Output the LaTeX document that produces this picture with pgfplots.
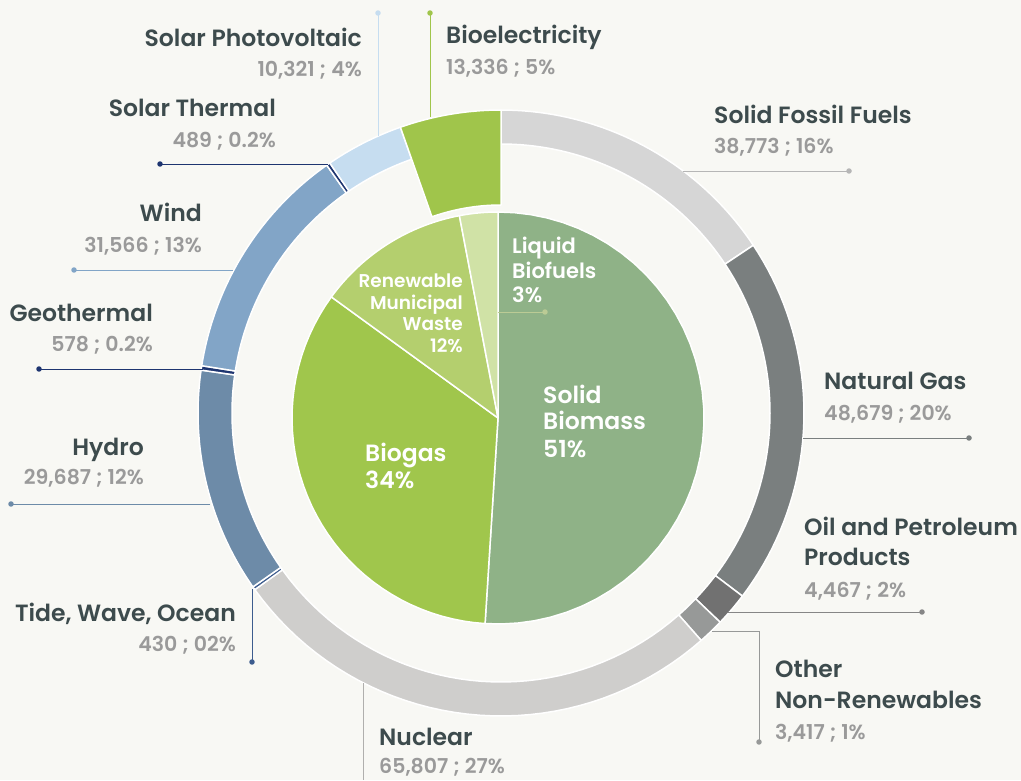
\documentclass[border=0pt]{standalone}
\usepackage{pgfplots}
\usepackage{pgfplotstable}
\pgfplotsset{compat=1.18}
\usepackage{fontspec}
\setmainfont{Poppins}[BoldFont={Poppins SemiBold}]

\definecolor{bg}{HTML}{F8F8F4}
\definecolor{cSFF}{HTML}{D6D6D6}
\definecolor{cNG}{HTML}{7A7F7F}
\definecolor{cOil}{HTML}{717171}
\definecolor{cONR}{HTML}{979998}
\definecolor{cNuc}{HTML}{CFCECC}
\definecolor{cTide}{HTML}{3D5C8E}
\definecolor{cHyd}{HTML}{6D8BA8}
\definecolor{cGeo}{HTML}{1E3570}
\definecolor{cWind}{HTML}{82A5C7}
\definecolor{cST}{HTML}{1E3570}
\definecolor{cPV}{HTML}{C6DDF0}
\definecolor{cBio}{HTML}{A0C54B}
\definecolor{cSB}{HTML}{8FB287}
\definecolor{cBG}{HTML}{A0C64C}
\definecolor{cRMW}{HTML}{B4CF6E}
\definecolor{cLB}{HTML}{D0E2A6}
\definecolor{cName}{HTML}{3D4B4D}
\definecolor{cVal}{HTML}{9A9A9A}

\pgfplotstableread{
label value color rin
SolidFossil 38773 cSFF 269
NaturalGas 48679 cNG 269
Oil 4467 cOil 269
OtherNR 3417 cONR 269
Nuclear 65807 cNuc 269
Tide 430 cTide 269
Hydro 29687 cHyd 269
Geothermal 578 cGeo 269
Wind 31566 cWind 269
SolarThermal 489 cST 269
SolarPV 10321 cPV 269
Bioelectricity 13336 cBio 208
}\ringtable

\pgfplotstableread{
label value color
SolidBiomass 51 cSB
Biogas 34 cBG
RMW 12 cRMW
Liquid 3 cLB
}\pietable

% #1 colour, #2 cx, #3 cy, #4 inner r, #5 outer R, #6 start angle, #7 end angle (clockwise from top)
\newcommand{\sector}[7]{%
  \addplot[fill=#1, draw=white, line width=1.5bp, line join=round,
    samples at={0,...,81}, variable=\t]
  ({#2 + ifthenelse(\t<40.5,#5,#4)*sin(ifthenelse(\t<40.5, #6+(#7-#6)*\t/40, #7-(#7-#6)*(\t-41)/40))},
   {#3 - ifthenelse(\t<40.5,#5,#4)*cos(ifthenelse(\t<40.5, #6+(#7-#6)*\t/40, #7-(#7-#6)*(\t-41)/40))}) -- cycle;
}

\newcommand{\namefont}{\fontsize{23.5bp}{28bp}\selectfont\bfseries\color{cName}}
\newcommand{\valfont}{\fontsize{20.5bp}{24bp}\selectfont\bfseries\color{cVal}}

\begin{document}
\begin{tikzpicture}[every node/.append style={inner sep=0pt}]
\begin{axis}[
  width=1021bp, height=780bp, scale only axis,
  xmin=0, xmax=1021, ymin=0, ymax=780, y dir=reverse,
  enlargelimits=false,
  axis line style={draw=none}, ticks=none,
  clip=false,
  axis background/.style={fill=bg},
]
% outer ring
\def\cum{0}
\pgfplotsforeachungrouped \i in {0,...,11}{%
  \pgfplotstablegetelem{\i}{value}\of\ringtable \let\v\pgfplotsretval
  \pgfplotstablegetelem{\i}{color}\of\ringtable \let\c\pgfplotsretval
  \pgfplotstablegetelem{\i}{rin}\of\ringtable \let\ri\pgfplotsretval
  \edef\cs{\cum}%
  \edef\cum{\the\numexpr\cum+\v\relax}%
  \edef\temp{\noexpand\sector{\c}{501}{413}{\ri}{303}{360*\cs/247550}{360*\cum/247550}}%
  \temp
}
% inner pie
\def\cum{0}
\pgfplotsforeachungrouped \i in {0,...,3}{%
  \pgfplotstablegetelem{\i}{value}\of\pietable \let\v\pgfplotsretval
  \pgfplotstablegetelem{\i}{color}\of\pietable \let\c\pgfplotsretval
  \edef\cs{\cum}%
  \edef\cum{\the\numexpr\cum+\v\relax}%
  \edef\temp{\noexpand\sector{\c}{498}{418}{0}{206}{360*\cs/100}{360*\cum/100}}%
  \temp
}

% leader lines
\pgfplotsset{leader/.style={line width=1bp, mark=*, mark size=2.2bp, mark indices={2}}}
\addplot[leader, color=cPV] coordinates {(378,136) (378,13)};
\addplot[leader, color=cBio] coordinates {(430,117) (430,13)};
\addplot[leader, color=cSFF!85!black] coordinates {(683,171) (849,171)};
\addplot[leader, color=cNG] coordinates {(803,438) (969,438)};
\addplot[leader, color=cOil!85!white] coordinates {(728,612) (922,612)};
\addplot[line width=1bp, mark=*, mark size=2.2bp, mark indices={3}, color=cONR] coordinates {(712,631) (759,631) (759,742)};
\addplot[line width=1bp, color=cNuc!85!black] coordinates {(363,683) (363,780)};
\addplot[leader, color=cTide] coordinates {(252,589) (252,662)};
\addplot[leader, color=cHyd] coordinates {(210,504) (11,504)};
\addplot[leader, color=cGeo] coordinates {(203,369) (39,369)};
\addplot[leader, color=cWind] coordinates {(233,270) (74,270)};
\addplot[leader, color=cST] coordinates {(328,164) (160,164)};
\addplot[leader, color=cLB!90!black] coordinates {(498,312) (545,312)};

% outer labels
\node[anchor=base east, font=\namefont] at (axis cs:362,47) {Solar Photovoltaic};
\node[anchor=base east, font=\valfont] at (axis cs:362,77) {10,321 ; 4\%};
\node[anchor=base west, font=\namefont] at (axis cs:446,44) {Bioelectricity};
\node[anchor=base west, font=\valfont] at (axis cs:446,75) {13,336 ; 5\%};
\node[anchor=base east, font=\namefont] at (axis cs:276,116) {Solar Thermal};
\node[anchor=base east, font=\valfont] at (axis cs:276,147) {489 ; 0.2\%};
\node[anchor=base west, font=\namefont] at (axis cs:714,123) {Solid Fossil Fuels};
\node[anchor=base west, font=\valfont] at (axis cs:714,153) {38,773 ; 16\%};
\node[anchor=base east, font=\namefont] at (axis cs:202,221) {Wind};
\node[anchor=base east, font=\valfont] at (axis cs:202,252) {31,566 ; 13\%};
\node[anchor=base east, font=\namefont] at (axis cs:153,321) {Geothermal};
\node[anchor=base east, font=\valfont] at (axis cs:153,351) {578 ; 0.2\%};
\node[anchor=base west, font=\namefont] at (axis cs:824,389) {Natural Gas};
\node[anchor=base west, font=\valfont] at (axis cs:824,420) {48,679 ; 20\%};
\node[anchor=base east, font=\namefont] at (axis cs:144,455) {Hydro};
\node[anchor=base east, font=\valfont] at (axis cs:144,484) {29,687 ; 12\%};
\node[anchor=base west, font=\namefont] at (axis cs:804,535) {Oil and Petroleum};
\node[anchor=base west, font=\namefont] at (axis cs:804,565) {Products};
\node[anchor=base west, font=\valfont] at (axis cs:804,597) {4,467 ; 2\%};
\node[anchor=base east, font=\namefont] at (axis cs:236,621) {Tide, Wave, Ocean};
\node[anchor=base east, font=\valfont] at (axis cs:236,651) {430 ; 02\%};
\node[anchor=base west, font=\namefont] at (axis cs:775,677) {Other};
\node[anchor=base west, font=\namefont] at (axis cs:775,708) {Non-Renewables};
\node[anchor=base west, font=\valfont] at (axis cs:775,739) {3,417 ; 1\%};
\node[anchor=base west, font=\namefont] at (axis cs:379,745) {Nuclear};
\node[anchor=base west, font=\valfont] at (axis cs:379,773) {65,807 ; 27\%};

% inner labels
\begin{scope}[every node/.style={inner sep=0pt, text=white, font=\fontsize{21bp}{24bp}\selectfont\bfseries}]
\node[anchor=base west] at (axis cs:512,253) {Liquid};
\node[anchor=base west] at (axis cs:512,278) {Biofuels};
\node[anchor=base west] at (axis cs:512,302) {3\%};
\end{scope}
\begin{scope}[every node/.style={inner sep=0pt, text=white, font=\fontsize{18.5bp}{22bp}\selectfont\bfseries}]
\node[anchor=base east] at (axis cs:463,287) {Renewable};
\node[anchor=base east] at (axis cs:463,309) {Municipal};
\node[anchor=base east] at (axis cs:463,330) {Waste};
\node[anchor=base east] at (axis cs:463,352) {12\%};
\end{scope}
\begin{scope}[every node/.style={inner sep=0pt, text=white, font=\fontsize{23.5bp}{28bp}\selectfont\bfseries}]
\node[anchor=base west] at (axis cs:543,403) {Solid};
\node[anchor=base west] at (axis cs:543,429) {Biomass};
\node[anchor=base west] at (axis cs:543,457) {51\%};
\node[anchor=base west] at (axis cs:365,461) {Biogas};
\node[anchor=base west] at (axis cs:365,488) {34\%};
\end{scope}
\end{axis}
\end{tikzpicture}
\end{document}
